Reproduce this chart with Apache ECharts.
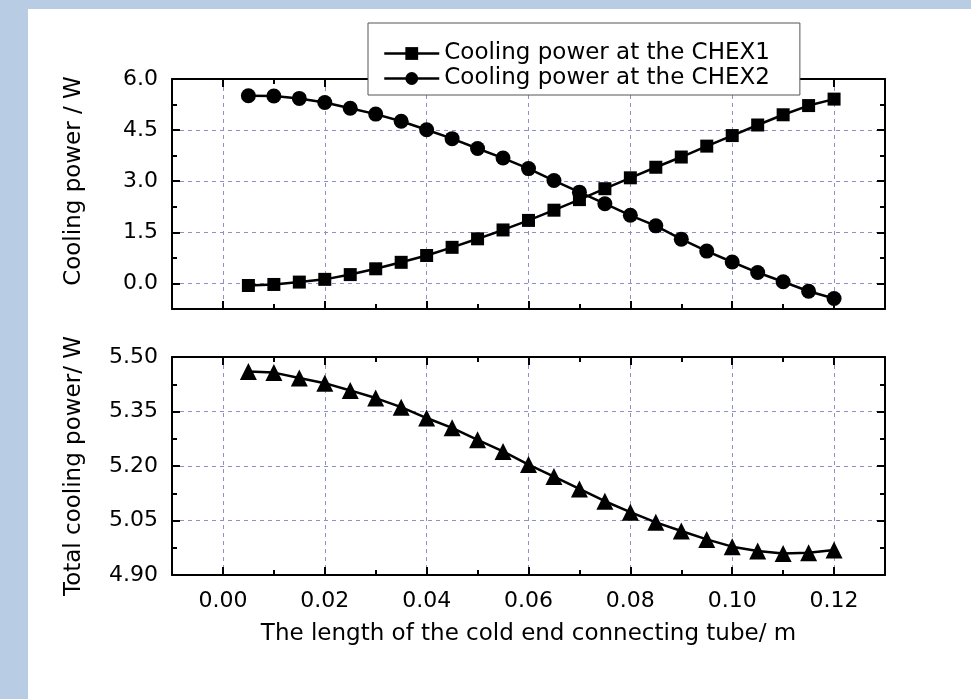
<!DOCTYPE html>
<html>
<head>
<meta charset="utf-8">
<script src="https://cdn.jsdelivr.net/npm/echarts@6/dist/echarts.min.js"></script>
<style>
  html, body { margin: 0; padding: 0; background: #fff; }
  #main { width: 971px; height: 699px; }
</style>
</head>
<body>
<div id="main"></div>
<script>
'use strict';

// tube length (m)
var lengths = [0.005, 0.010, 0.015, 0.020, 0.025, 0.030, 0.035, 0.040, 0.045, 0.050, 0.055, 0.060,
  0.065, 0.070, 0.075, 0.080, 0.085, 0.090, 0.095, 0.100, 0.105, 0.110, 0.115, 0.120];

var chex1 = [-0.06, -0.03, 0.04, 0.12, 0.26, 0.43, 0.62, 0.82, 1.06, 1.31, 1.57, 1.85,
  2.15, 2.46, 2.78, 3.10, 3.41, 3.71, 4.03, 4.34, 4.65, 4.95, 5.22, 5.41];

var chex2 = [5.51, 5.50, 5.43, 5.31, 5.14, 4.97, 4.76, 4.51, 4.25, 3.96, 3.68, 3.37,
  3.02, 2.68, 2.34, 2.00, 1.69, 1.30, 0.95, 0.63, 0.32, 0.05, -0.23, -0.44];

var total = [5.460, 5.457, 5.442, 5.428, 5.408, 5.387, 5.362, 5.332, 5.305, 5.272, 5.240, 5.204,
  5.171, 5.137, 5.103, 5.073, 5.045, 5.021, 4.998, 4.978, 4.966, 4.959, 4.961, 4.969];

var xTicks = [0.00, 0.02, 0.04, 0.06, 0.08, 0.10, 0.12];
var yTopTicks = [0.0, 1.5, 3.0, 4.5, 6.0];
var yBotTicks = [4.90, 5.05, 5.20, 5.35, 5.50];

var legendNames = ['Cooling power at the CHEX1', 'Cooling power at the CHEX2'];

var FONT = 'DejaVu Sans';
var GRID_COLOR = '#8f8fcc';

function pairs(ys) {
  return lengths.map(function (x, i) { return [x, ys[i]]; });
}

// main axis: frame line + long ticks + dashed grid
function mainAxis(o) {
  var ax = {
    type: 'value',
    gridIndex: o.grid,
    position: o.pos,
    min: o.min, max: o.max, interval: o.interval,
    axisLine: { show: true, onZero: false, lineStyle: { color: '#000', width: 2 } },
    axisTick: { show: true, inside: true, length: 8, lineStyle: { color: '#000', width: 2 } },
    axisLabel: { show: false },
    splitLine: { show: false }
  };
  if (o.ticks) ax.axisTick.customValues = o.ticks;
  if (o.grid_lines) {
    ax.splitLine = { show: true, lineStyle: { color: GRID_COLOR, width: 1, type: [4, 4] } };
  }
  if (o.label) {
    ax.axisLabel = {
      show: true, margin: o.margin, color: '#000', fontSize: 22, fontFamily: FONT,
      formatter: function (v) { return v.toFixed(o.digits); }
    };
    if (o.ticks) ax.axisLabel.customValues = o.ticks;
  }
  return ax;
}

// minor ticks only, on an overlay grid
function minorAxis(grid, pos, min, max, interval) {
  return {
    type: 'value', gridIndex: grid, position: pos,
    min: min, max: max, interval: interval,
    axisLine: { show: false, onZero: false },
    axisTick: { show: true, inside: true, length: 5, lineStyle: { color: '#000', width: 2 } },
    axisLabel: { show: false },
    splitLine: { show: false }
  };
}

var topGrid = { left: 172, width: 713, top: 79, height: 230 };
var botGrid = { left: 172, width: 713, top: 357, height: 218 };

var xAxes = [
  mainAxis({ grid: 0, pos: 'bottom', min: -0.01, max: 0.13, interval: 0.01, ticks: xTicks, grid_lines: true }),
  mainAxis({ grid: 0, pos: 'top', min: -0.01, max: 0.13, interval: 0.01, ticks: xTicks }),
  minorAxis(1, 'bottom', -0.01, 0.13, 0.01),
  minorAxis(1, 'top', -0.01, 0.13, 0.01),
  mainAxis({ grid: 2, pos: 'bottom', min: -0.01, max: 0.13, interval: 0.01, ticks: xTicks, grid_lines: true,
    label: true, digits: 2, margin: 15 }),
  mainAxis({ grid: 2, pos: 'top', min: -0.01, max: 0.13, interval: 0.01, ticks: xTicks }),
  minorAxis(3, 'bottom', -0.01, 0.13, 0.01),
  minorAxis(3, 'top', -0.01, 0.13, 0.01)
];

var yAxes = [
  mainAxis({ grid: 0, pos: 'left', min: -0.75, max: 6.0, interval: 0.75, ticks: yTopTicks, grid_lines: true,
    label: true, digits: 1, margin: 14 }),
  mainAxis({ grid: 0, pos: 'right', min: -0.75, max: 6.0, interval: 0.75, ticks: yTopTicks }),
  minorAxis(1, 'left', -0.75, 6.0, 0.75),
  minorAxis(1, 'right', -0.75, 6.0, 0.75),
  mainAxis({ grid: 2, pos: 'left', min: 4.90, max: 5.50, interval: 0.15, ticks: yBotTicks, grid_lines: true,
    label: true, digits: 2, margin: 14 }),
  mainAxis({ grid: 2, pos: 'right', min: 4.90, max: 5.50, interval: 0.15, ticks: yBotTicks }),
  minorAxis(3, 'left', 4.90, 5.50, 0.075),
  minorAxis(3, 'right', 4.90, 5.50, 0.075)
];

// axis titles
var nameStyle = { color: '#000', fontSize: 23, fontFamily: FONT };
xAxes[4].name = 'The length of the cold end connecting tube/ m';
xAxes[4].nameLocation = 'middle';
xAxes[4].nameGap = 48;
xAxes[4].nameTextStyle = nameStyle;

yAxes[0].name = 'Cooling power / W';
yAxes[0].nameLocation = 'middle';
yAxes[0].nameGap = 86;
yAxes[0].nameTextStyle = Object.assign({ padding: [0, 0, 0, 26] }, nameStyle);

yAxes[4].name = 'Total cooling power/ W';
yAxes[4].nameLocation = 'middle';
yAxes[4].nameGap = 86;
yAxes[4].nameTextStyle = nameStyle;

function lineSeries(name, data, xi, yi, symbol, size) {
  return {
    name: name, type: 'line', xAxisIndex: xi, yAxisIndex: yi,
    data: pairs(data),
    symbol: symbol, symbolSize: size,
    itemStyle: { color: '#000' },
    lineStyle: { color: '#000', width: 2.5 },
    emphasis: { disabled: true }
  };
}

var option = {
  animation: false,
  backgroundColor: '#fff',
  graphic: [
    { type: 'rect', left: 0, top: 0, shape: { width: 971, height: 9 }, style: { fill: '#b8cce4' }, silent: true },
    { type: 'rect', left: 0, top: 0, shape: { width: 28, height: 699 }, style: { fill: '#b8cce4' }, silent: true }
  ],
  legend: {
    data: legendNames,
    orient: 'vertical',
    left: 368, top: 23,
    padding: [18, 30, 4, 15],
    itemWidth: 55, itemHeight: 16, itemGap: 0,
    backgroundColor: '#fff',
    borderColor: '#555', borderWidth: 1,
    lineStyle: { width: 2.5, color: '#000' },
    itemStyle: { color: '#000' },
    textStyle: { color: '#000', fontSize: 23, fontFamily: FONT, lineHeight: 25 }
  },
  grid: [topGrid, topGrid, botGrid, botGrid],
  xAxis: xAxes,
  yAxis: yAxes,
  series: [
    lineSeries(legendNames[0], chex1, 0, 0, 'rect', 13),
    lineSeries(legendNames[1], chex2, 0, 0, 'circle', 15),
    lineSeries('Total cooling power', total, 4, 4, 'triangle', 17)
  ]
};

var chart = echarts.init(document.getElementById('main'));
chart.setOption(option);
</script>
</body>
</html>
